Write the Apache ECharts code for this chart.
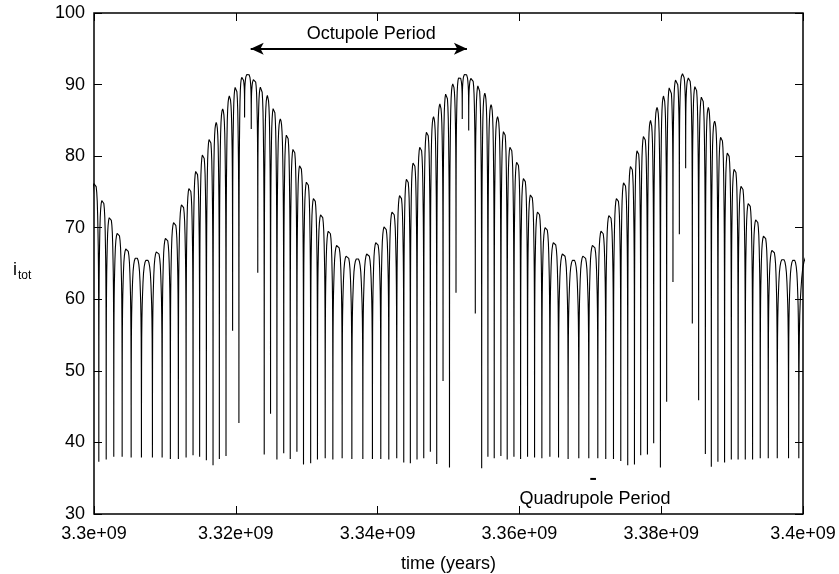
<!DOCTYPE html>
<html>
<head>
<meta charset="utf-8">
<script src="https://cdn.jsdelivr.net/npm/echarts@6/dist/echarts.min.js"></script>
<style>
html,body{margin:0;padding:0;background:#fff;}
#c{width:839px;height:574px;}
</style>
</head>
<body>
<div id="c"></div>
<script>
// ---- values ----
// times (years) of the dips of each quadrupole (Kozai) cycle
const dipTimes = [
 3299.51e6,3300.68e6,3301.72e6,3302.79e6,3303.97e6,3305.24e6,3306.69e6,3308.24e6,3309.61e6,3310.77e6,
 3311.90e6,3312.99e6,3313.97e6,3314.90e6,3315.85e6,3316.79e6,3317.68e6,3318.62e6,3319.55e6,3320.44e6,
 3321.24e6,3322.18e6,3323.10e6,3324.01e6,3324.90e6,3325.80e6,3326.76e6,3327.68e6,3328.62e6,3329.55e6,
 3330.56e6,3331.52e6,3332.61e6,3333.69e6,3335.00e6,3336.37e6,3337.92e6,3339.27e6,3340.45e6,3341.58e6,
 3342.70e6,3343.69e6,3344.62e6,3345.56e6,3346.51e6,3347.44e6,3348.34e6,3349.23e6,3350.14e6,3351.06e6,
 3351.94e6,3352.85e6,3353.78e6,3354.68e6,3355.56e6,3356.45e6,3357.39e6,3358.28e6,3359.23e6,3360.17e6,
 3361.15e6,3362.14e6,3363.17e6,3364.30e6,3365.52e6,3366.87e6,3368.38e6,3369.79e6,3371.06e6,3372.18e6,
 3373.27e6,3374.30e6,3375.28e6,3376.23e6,3377.11e6,3378.06e6,3378.94e6,3379.89e6,3380.77e6,3381.66e6,
 3382.56e6,3383.45e6,3384.39e6,3385.28e6,3386.23e6,3387.07e6,3388.00e6,3388.94e6,3389.89e6,3390.85e6,
 3391.86e6,3392.89e6,3393.97e6,3395.10e6,3396.37e6,3397.96e6,3399.41e6,3402.30e6
];
// i_tot at each dip
const dipValues = [
 38.0,37.3,37.6,38.0,38.0,37.9,37.9,37.9,37.9,37.7,
 37.7,37.9,38.2,38.0,37.5,36.8,37.7,38.1,55.6,42.7,
 85.4,83.8,63.7,38.3,44.0,37.6,38.5,37.7,38.7,36.9,
 37.1,37.6,37.8,37.6,37.8,37.7,37.7,37.7,37.7,37.6,
 37.8,37.2,37.1,37.6,37.8,38.7,37.0,48.6,36.5,60.9,
 85.2,83.6,58.0,36.4,38.0,37.8,38.1,37.6,38.0,37.7,
 38.0,37.9,37.8,38.0,37.9,37.7,37.8,37.8,37.8,37.7,
 37.7,37.4,36.8,36.9,38.2,38.3,39.9,36.5,45.7,62.4,
 69.1,78.3,56.6,45.9,38.4,36.6,37.3,37.2,37.6,37.6,
 37.6,37.6,37.8,37.8,37.8,37.8,37.8,38.0
];
// i_tot at the top of the arch between dip k and dip k+1
const archPeaks = [
 76.4,74.0,71.6,69.4,67.2,65.9,65.6,66.8,68.7,70.9,
 73.4,75.7,78.1,80.4,82.6,84.7,86.6,88.4,89.8,91.0,
 91.5,90.8,89.8,88.5,86.9,85.2,83.2,81.2,78.9,76.6,
 74.3,72.0,69.7,67.7,66.2,65.8,66.5,68.1,70.3,72.4,
 74.7,77.0,79.3,81.5,83.6,85.5,87.3,88.9,90.1,91.1,
 91.5,91.0,90.0,88.8,87.2,85.5,83.7,81.5,79.4,77.1,
 74.8,72.4,70.2,68.1,66.5,65.6,66.2,67.7,69.7,71.9,
 74.3,76.5,78.8,81.0,83.0,85.0,86.8,88.4,89.8,90.8,
 91.5,91.0,89.9,88.5,86.8,84.9,82.9,80.7,78.4,76.0,
 73.6,71.3,69.0,67.0,65.7,65.6,66.3
];
// shape of one arch (fraction of the cycle from a dip, fraction of the rise)
const archU = [0, 0.004, 0.012, 0.025, 0.045, 0.07, 0.1, 0.14, 0.19, 0.25, 0.32, 0.4, 0.5];
const archF = [0, 0.25, 0.45, 0.6, 0.7, 0.77, 0.82, 0.88, 0.93, 0.962, 0.983, 0.994, 1.0];

// axes
const xTicks = [3.3e9, 3.32e9, 3.34e9, 3.36e9, 3.38e9, 3.4e9];
const xTickLabels = ['3.3e+09','3.32e+09','3.34e+09','3.36e+09','3.38e+09','3.4e+09'];
const yTicks = [30, 40, 50, 60, 70, 80, 90, 100];

// annotations
const octArrowT = [3.3221e9, 3.3526e9];
const octArrowV = 95;
const octLabel = 'Octupole Period';
const octLabelPos = [3.33e9, 97.0];
const quadDashT = [3.3700e9, 3.3708e9];
const quadDashV = 34.9;
const quadLabel = 'Quadrupole Period';
const quadLabelPos = [3.36e9, 32.05];

// ---- build the curve ----
const pts = [];
for (let i = 0; i < archPeaks.length; i++) {
  const tL = dipTimes[i], tR = dipTimes[i + 1];
  const dL = dipValues[i], dR = dipValues[i + 1], P = archPeaks[i];
  const w = tR - tL;
  if (i === 0) pts.push([tL, dL]);
  for (let k = 1; k < archU.length; k++) pts.push([tL + archU[k] * w, dL + (P - dL) * archF[k]]);
  for (let k = archU.length - 2; k >= 0; k--) pts.push([tR - archU[k] * w, dR + (P - dR) * archF[k]]);
}

const FONT = 'Liberation Sans, Arial, Helvetica, sans-serif';
const chart = echarts.init(document.getElementById('c'), null, {renderer: 'canvas'});
const tickStyle = {inside: true, length: 8, lineStyle: {color: '#000', width: 1}};
const xBase = {type: 'value', min: xTicks[0], max: xTicks[xTicks.length - 1], interval: xTicks[1] - xTicks[0],
  splitLine: {show: false}, axisLine: {show: false}, axisTick: tickStyle};
const yBase = {type: 'value', min: yTicks[0], max: yTicks[yTicks.length - 1], interval: yTicks[1] - yTicks[0],
  splitLine: {show: false}, axisLine: {show: false}, axisTick: tickStyle};

chart.setOption({
  animation: false,
  backgroundColor: '#fff',
  grid: {left: 94, right: 36, top: 13, bottom: 60, show: true, borderColor: '#000', borderWidth: 1.5,
    backgroundColor: 'transparent', containLabel: false, outerBoundsMode: 'none'},
  xAxis: [
    Object.assign({}, xBase, {position: 'bottom',
      axisLabel: {fontSize: 18, color: '#000', fontFamily: FONT, margin: 11,
        formatter: v => xTickLabels[Math.round((v - xTicks[0]) / (xTicks[1] - xTicks[0]))]},
      name: 'time (years)', nameLocation: 'middle', nameGap: 41,
      nameTextStyle: {fontSize: 18, color: '#000', fontFamily: FONT}}),
    Object.assign({}, xBase, {position: 'top', axisLabel: {show: false}})
  ],
  yAxis: [
    Object.assign({}, yBase, {position: 'left',
      axisLabel: {fontSize: 18, color: '#000', fontFamily: FONT, margin: 9}}),
    Object.assign({}, yBase, {position: 'right', axisLabel: {show: false}})
  ],
  series: [
    {type: 'line', data: pts, showSymbol: false, symbol: 'none', clip: true, silent: true,
     lineStyle: {color: '#000', width: 1.1}},
    {type: 'line', data: [[quadDashT[0], quadDashV], [quadDashT[1], quadDashV]], showSymbol: false, symbol: 'none',
     silent: true, lineStyle: {color: '#000', width: 2},
     markLine: {silent: true, symbol: ['arrow', 'arrow'], symbolSize: [9, 13], label: {show: false},
       lineStyle: {color: '#000', width: 2, type: 'solid'},
       data: [[{coord: [octArrowT[0], octArrowV]}, {coord: [octArrowT[1], octArrowV]}]]}}
  ]
});

const pO = chart.convertToPixel({gridIndex: 0}, octLabelPos);
const pQ = chart.convertToPixel({gridIndex: 0}, quadLabelPos);
chart.setOption({
  graphic: [
    {type: 'text', x: pO[0], y: pO[1], style: {text: octLabel, font: '18px ' + FONT, fill: '#000', textAlign: 'left', textVerticalAlign: 'middle'}},
    {type: 'text', x: pQ[0], y: pQ[1], style: {text: quadLabel, font: '18px ' + FONT, fill: '#000', textAlign: 'left', textVerticalAlign: 'middle'}},
    {type: 'text', x: 13, y: 270, style: {text: 'i', font: '18px ' + FONT, fill: '#000', textAlign: 'left', textVerticalAlign: 'middle'}},
    {type: 'text', x: 18, y: 276, style: {text: 'tot', font: '12px ' + FONT, fill: '#000', textAlign: 'left', textVerticalAlign: 'middle'}}
  ]
});
</script>
</body>
</html>
